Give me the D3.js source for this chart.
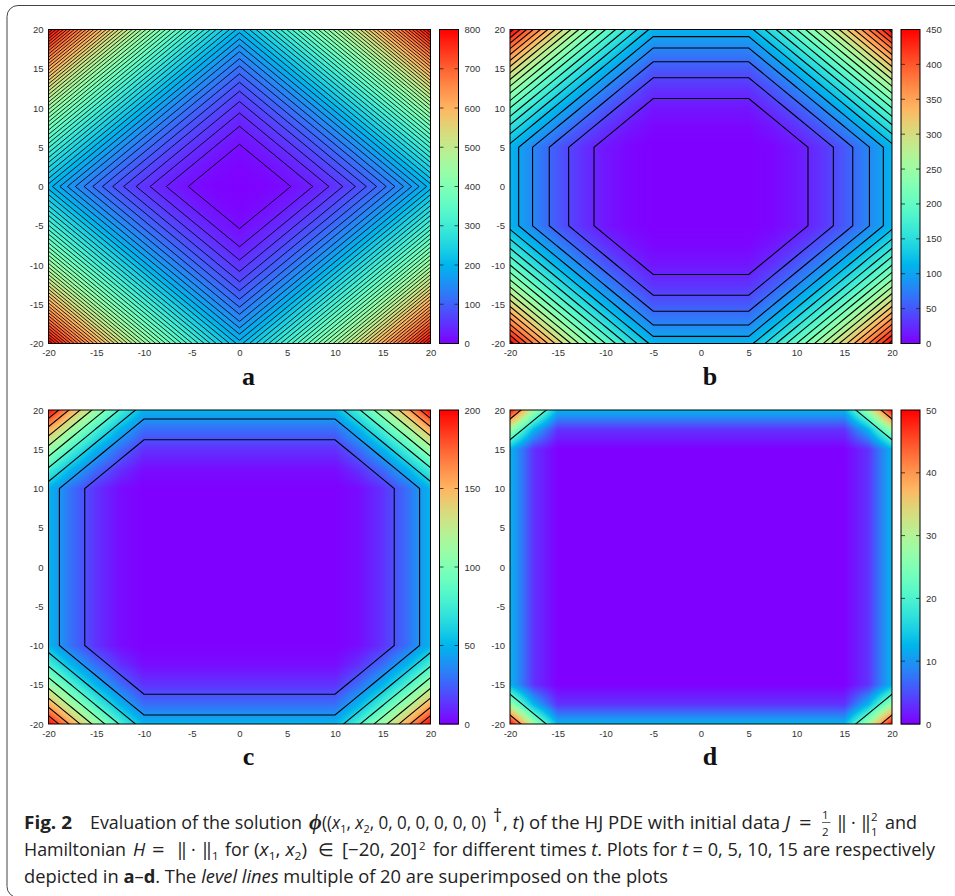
<!DOCTYPE html>
<html>
<head>
<meta charset="utf-8">
<script src="https://cdn.jsdelivr.net/npm/d3@7/dist/d3.min.js"></script>
<style>
  body { margin: 0; background: #fff; }
  svg { display: block; }
</style>
</head>
<body>
<div id="viscontainer"></div>
<script>
// grid nodes of one quadrant, |x1| and |x2|, the other three are mirrored
const gridNodes = [0, 2.5, 5, 7.5, 10, 12.5, 15, 17.5, 20];
const axisTicks = [-20, -15, -10, -5, 0, 5, 10, 15, 20];

// values read per quadrant, rows are |x2|, columns are |x1|
const phiA = [
  [0, 3.1, 12.5, 28.1, 50, 78.1, 112.5, 153.1, 200],
  [3.1, 12.5, 28.1, 50, 78.1, 112.5, 153.1, 200, 253.1],
  [12.5, 28.1, 50, 78.1, 112.5, 153.1, 200, 253.1, 312.5],
  [28.1, 50, 78.1, 112.5, 153.1, 200, 253.1, 312.5, 378.1],
  [50, 78.1, 112.5, 153.1, 200, 253.1, 312.5, 378.1, 450],
  [78.1, 112.5, 153.1, 200, 253.1, 312.5, 378.1, 450, 528.1],
  [112.5, 153.1, 200, 253.1, 312.5, 378.1, 450, 528.1, 612.5],
  [153.1, 200, 253.1, 312.5, 378.1, 450, 528.1, 612.5, 703.1],
  [200, 253.1, 312.5, 378.1, 450, 528.1, 612.5, 703.1, 800],
];
const phiB = [
  [0, 0, 0, 3.1, 12.5, 28.1, 50, 78.1, 112.5],
  [0, 0, 0, 3.1, 12.5, 28.1, 50, 78.1, 112.5],
  [0, 0, 0, 3.1, 12.5, 28.1, 50, 78.1, 112.5],
  [3.1, 3.1, 3.1, 12.5, 28.1, 50, 78.1, 112.5, 153.1],
  [12.5, 12.5, 12.5, 28.1, 50, 78.1, 112.5, 153.1, 200],
  [28.1, 28.1, 28.1, 50, 78.1, 112.5, 153.1, 200, 253.1],
  [50, 50, 50, 78.1, 112.5, 153.1, 200, 253.1, 312.5],
  [78.1, 78.1, 78.1, 112.5, 153.1, 200, 253.1, 312.5, 378.1],
  [112.5, 112.5, 112.5, 153.1, 200, 253.1, 312.5, 378.1, 450],
];
const phiC = [
  [0, 0, 0, 0, 0, 3.1, 12.5, 28.1, 50],
  [0, 0, 0, 0, 0, 3.1, 12.5, 28.1, 50],
  [0, 0, 0, 0, 0, 3.1, 12.5, 28.1, 50],
  [0, 0, 0, 0, 0, 3.1, 12.5, 28.1, 50],
  [0, 0, 0, 0, 0, 3.1, 12.5, 28.1, 50],
  [3.1, 3.1, 3.1, 3.1, 3.1, 12.5, 28.1, 50, 78.1],
  [12.5, 12.5, 12.5, 12.5, 12.5, 28.1, 50, 78.1, 112.5],
  [28.1, 28.1, 28.1, 28.1, 28.1, 50, 78.1, 112.5, 153.1],
  [50, 50, 50, 50, 50, 78.1, 112.5, 153.1, 200],
];
const phiD = [
  [0, 0, 0, 0, 0, 0, 0, 3.1, 12.5],
  [0, 0, 0, 0, 0, 0, 0, 3.1, 12.5],
  [0, 0, 0, 0, 0, 0, 0, 3.1, 12.5],
  [0, 0, 0, 0, 0, 0, 0, 3.1, 12.5],
  [0, 0, 0, 0, 0, 0, 0, 3.1, 12.5],
  [0, 0, 0, 0, 0, 0, 0, 3.1, 12.5],
  [0, 0, 0, 0, 0, 0, 0, 3.1, 12.5],
  [3.1, 3.1, 3.1, 3.1, 3.1, 3.1, 3.1, 12.5, 28.1],
  [12.5, 12.5, 12.5, 12.5, 12.5, 12.5, 12.5, 28.1, 50],
];

const panelNames = ["a", "b", "c", "d"];
const panelValues = [phiA, phiB, phiC, phiD];
const colorMax = [800, 450, 200, 50];
const colorTicks = [
  [0, 100, 200, 300, 400, 500, 600, 700, 800],
  [0, 50, 100, 150, 200, 250, 300, 350, 400, 450],
  [0, 50, 100, 150, 200],
  [0, 10, 20, 30, 40, 50],
];
// panel a is drawn with closer lines than the other three
const levelSteps = [14.8, 20, 20, 20];
const levelWidths = [0.85, 1.1, 1.1, 1.1];

const width = 955;
const height = 896;
const plotWidth = 382;
const plotHeight = 314;
const barWidth = 19;
const plotLefts = [48.5, 510, 48.5, 510];
const plotTops = [29.5, 29.5, 410, 410];
const tickFont = "'Liberation Sans', Arial, sans-serif";

const svg = d3.create("svg").attr("width", width).attr("height", height);
viscontainer.append(svg.node());

// card outline, bottom and right run off the page
svg
  .append("rect")
  .attr("x", 7)
  .attr("y", 5.5)
  .attr("width", 1000)
  .attr("height", 892)
  .attr("rx", 11)
  .attr("fill", "none")
  .attr("stroke", "#444")
  .attr("stroke-width", 1);

// gnuplot rainbow palette (rgbformulae 33,13,10)
const rainbow = (v) => {
  const r = Math.min(1, Math.abs(2 * v - 0.5));
  const g = Math.sin(Math.PI * v);
  const b = Math.cos((Math.PI * v) / 2);
  return d3.rgb(r * 255, g * 255, b * 255);
};

// mirror a quadrant into the full square
const mirrorAxis = [...gridNodes.slice(1).reverse().map((d) => -d), ...gridNodes];
const mirrorGrid = (quadrant) => {
  const n = gridNodes.length - 1;
  const full = [];
  mirrorAxis.forEach((_, j) => {
    mirrorAxis.forEach((_, i) => {
      full.push(quadrant[Math.abs(j - n)][Math.abs(i - n)]);
    });
  });
  return full;
};

const styleAxis = (g) => {
  g.select(".domain").remove();
  g.selectAll("line").remove();
  g.selectAll("text")
    .attr("font-family", tickFont)
    .attr("font-size", 9.5)
    .attr("fill", "#333");
};

const drawPanel = (index) => {
  const left = plotLefts[index];
  const top = plotTops[index];
  const full = mirrorGrid(panelValues[index]);
  const size = mirrorAxis.length;
  const step = gridNodes[1] - gridNodes[0];
  const xScale = d3.scaleLinear().domain([-20, 20]).range([left, left + plotWidth]);
  const yScale = d3.scaleLinear().domain([-20, 20]).range([top + plotHeight, top]);
  const colorScale = d3.scaleSequential(rainbow).domain([0, colorMax[index]]);

  // heatmap, bilinear between the grid nodes
  const canvas = document.createElement("canvas");
  canvas.width = plotWidth;
  canvas.height = plotHeight;
  const ctx = canvas.getContext("2d");
  const image = ctx.createImageData(plotWidth, plotHeight);
  for (let py = 0; py < plotHeight; py++) {
    for (let px = 0; px < plotWidth; px++) {
      const gx = (xScale.invert(left + px + 0.5) + 20) / step;
      const gy = (yScale.invert(top + py + 0.5) + 20) / step;
      const i = Math.min(size - 2, Math.floor(gx));
      const j = Math.min(size - 2, Math.floor(gy));
      const fx = gx - i;
      const fy = gy - j;
      const v =
        full[j * size + i] * (1 - fx) * (1 - fy) +
        full[j * size + i + 1] * fx * (1 - fy) +
        full[(j + 1) * size + i] * (1 - fx) * fy +
        full[(j + 1) * size + i + 1] * fx * fy;
      const c = colorScale(v);
      const o = (py * plotWidth + px) * 4;
      image.data[o] = c.r;
      image.data[o + 1] = c.g;
      image.data[o + 2] = c.b;
      image.data[o + 3] = 255;
    }
  }
  ctx.putImageData(image, 0, 0);

  const panel = svg.append("g").attr("class", `panel-${panelNames[index]}`);
  panel
    .append("image")
    .attr("x", left)
    .attr("y", top)
    .attr("width", plotWidth)
    .attr("height", plotHeight)
    .attr("href", canvas.toDataURL());

  // level lines
  const clipId = `clip-${panelNames[index]}`;
  panel
    .append("clipPath")
    .attr("id", clipId)
    .append("rect")
    .attr("x", left)
    .attr("y", top)
    .attr("width", plotWidth)
    .attr("height", plotHeight);

  const contourX = d3.scaleLinear().domain([0.5, size - 0.5]).range(xScale.range());
  const contourY = d3.scaleLinear().domain([0.5, size - 0.5]).range(yScale.range());
  const project = d3.geoPath(
    d3.geoTransform({
      point(x, y) {
        this.stream.point(contourX(x), contourY(y));
      },
    })
  );
  const levels = d3.range(levelSteps[index], colorMax[index], levelSteps[index]);
  panel
    .append("g")
    .attr("clip-path", `url(#${clipId})`)
    .selectAll("path")
    .data(d3.contours().size([size, size]).thresholds(levels)(full))
    .join("path")
    .attr("d", project)
    .attr("fill", "none")
    .attr("stroke", "#000")
    .attr("stroke-width", levelWidths[index]);

  panel
    .append("rect")
    .attr("x", left)
    .attr("y", top)
    .attr("width", plotWidth)
    .attr("height", plotHeight)
    .attr("fill", "none")
    .attr("stroke", "#000");

  // plain hyphen on the negative labels
  panel
    .append("g")
    .attr("transform", `translate(0, ${top + plotHeight})`)
    .call(d3.axisBottom(xScale).tickValues(axisTicks).tickFormat(String).tickSize(0).tickPadding(6))
    .call(styleAxis);
  panel
    .append("g")
    .attr("transform", `translate(${left}, 0)`)
    .call(d3.axisLeft(yScale).tickValues(axisTicks).tickFormat(String).tickSize(0).tickPadding(5))
    .call(styleAxis);

  // colour bar
  const barLeft = left + plotWidth + 9;
  const barScale = d3
    .scaleLinear()
    .domain([0, colorMax[index]])
    .range([top + plotHeight, top]);
  panel
    .append("g")
    .selectAll("rect")
    .data(d3.range(plotHeight))
    .join("rect")
    .attr("x", barLeft)
    .attr("y", (d) => top + d)
    .attr("width", barWidth)
    .attr("height", 1.5)
    .attr("fill", (d) => colorScale(barScale.invert(top + d + 0.5)));
  panel
    .append("g")
    .selectAll("path")
    .data(colorTicks[index].slice(1, -1))
    .join("path")
    .attr(
      "d",
      (d) =>
        `M${barLeft},${barScale(d)}h4M${barLeft + barWidth},${barScale(d)}h-4`
    )
    .attr("stroke", "#222")
    .attr("stroke-width", 0.8);
  panel
    .append("rect")
    .attr("x", barLeft)
    .attr("y", top)
    .attr("width", barWidth)
    .attr("height", plotHeight)
    .attr("fill", "none")
    .attr("stroke", "#000");
  panel
    .append("g")
    .attr("transform", `translate(${barLeft + barWidth}, 0)`)
    .call(d3.axisRight(barScale).tickValues(colorTicks[index]).tickSize(0).tickPadding(6))
    .call(styleAxis);

  // panel letter
  panel
    .append("text")
    .attr("x", left + plotWidth / 2 + 9)
    .attr("y", top + plotHeight + 41)
    .attr("text-anchor", "middle")
    .attr("font-family", "'Liberation Serif', serif")
    .attr("font-weight", "bold")
    .attr("font-size", 26)
    .attr("fill", "#111")
    .text(panelNames[index]);
};

panelNames.forEach((_, i) => drawPanel(i));

// caption runs: plain text with italic, bold, sub and superscript parts
const captionFont = "'Open Sans', 'Noto Sans', sans-serif";
const captionSize = 18;
const partSize = (part) => {
  if (part.big) return 22;
  if (part.sub || part.sup || part.small) return 11.5;
  return captionSize;
};
const addRun = (x, y, parts, fit) => {
  const text = svg
    .append("text")
    .attr("x", x)
    .attr("y", y)
    .attr("font-family", captionFont)
    .attr("font-size", captionSize)
    .attr("fill", "#222")
    .attr("xml:space", "preserve");
  if (fit) {
    text.attr("textLength", fit).attr("lengthAdjust", "spacingAndGlyphs");
  }
  let shift = 0;
  parts.forEach((p) => {
    const part = typeof p === "string" ? { t: p } : p;
    const offset = part.sub ? 4 : part.sup ? -6 : 0;
    text
      .append("tspan")
      .attr("dy", offset - shift)
      .attr("font-size", partSize(part))
      .attr("font-style", part.i ? "italic" : "normal")
      .attr("font-weight", part.b ? "bold" : "normal")
      .attr("font-family", part.serif ? "'Liberation Serif', serif" : captionFont)
      .text(part.t);
    shift = offset;
  });
};

const line1 = 829;
const line2 = 856;
const line3 = 883;
addRun(24, line1, [{ t: "Fig. 2", b: true }], 48);
addRun(90, line1, ["Evaluation of the solution"], 212);
addRun(309, line1, [{ t: "ϕ", i: true, b: true, serif: true, big: true }]);
addRun(322, line1, ["((", { t: "x", i: true }, { t: "1", sub: true }, ", ", { t: "x", i: true }, { t: "2", sub: true }, ", 0, 0, 0, 0, 0, 0)"], 164);
addRun(493, 822, [{ t: "†" }]);
addRun(503, line1, [", ", { t: "t", i: true }, ") of the HJ PDE with initial data ", { t: "J", i: true }], 287);
addRun(799, line1 + 1, [{ t: "=", big: true }]);
addRun(822, 818.5, [{ t: "1", small: true }]);
svg
  .append("path")
  .attr("d", `M822,822.5h8.5`)
  .attr("stroke", "#222")
  .attr("stroke-width", 0.7);
addRun(822, 836, [{ t: "2", small: true }]);
addRun(837, line1, ["‖"]);
addRun(851, line1, ["·"]);
addRun(861, line1, ["‖"]);
addRun(871, 821, [{ t: "2", small: true }]);
addRun(871, 836, [{ t: "1", small: true }]);
addRun(885, line1, ["and"], 32);

addRun(24, line2, ["Hamiltonian"], 102);
addRun(133, line2, [{ t: "H", i: true }]);
addRun(152, line2 + 1, [{ t: "=", big: true }]);
addRun(177, line2, ["‖"]);
addRun(191, line2, ["·"]);
addRun(202, line2, ["‖"]);
addRun(212, line2 + 4, [{ t: "1", small: true }]);
addRun(225, line2, ["for"], 24);
addRun(254, line2, ["(", { t: "x", i: true }, { t: "1", sub: true }, ", ", { t: "x", i: true }, { t: "2", sub: true }, ")"], 53);
addRun(318, line2, ["∈"]);
addRun(342, line2, ["[−20, 20]"], 75);
addRun(419, line2 - 6, [{ t: "2", small: true }]);
addRun(433, line2, ["for different times ", { t: "t", i: true }, ". Plots for ", { t: "t", i: true }, " = 0, 5, 10, 15 are respectively"], 502);

addRun(24, line3, ["depicted in ", { t: "a", b: true }, "–", { t: "d", b: true }, ". The ", { t: "level lines", i: true }, " multiple of 20 are superimposed on the plots"], 644);
</script>
</body>
</html>
